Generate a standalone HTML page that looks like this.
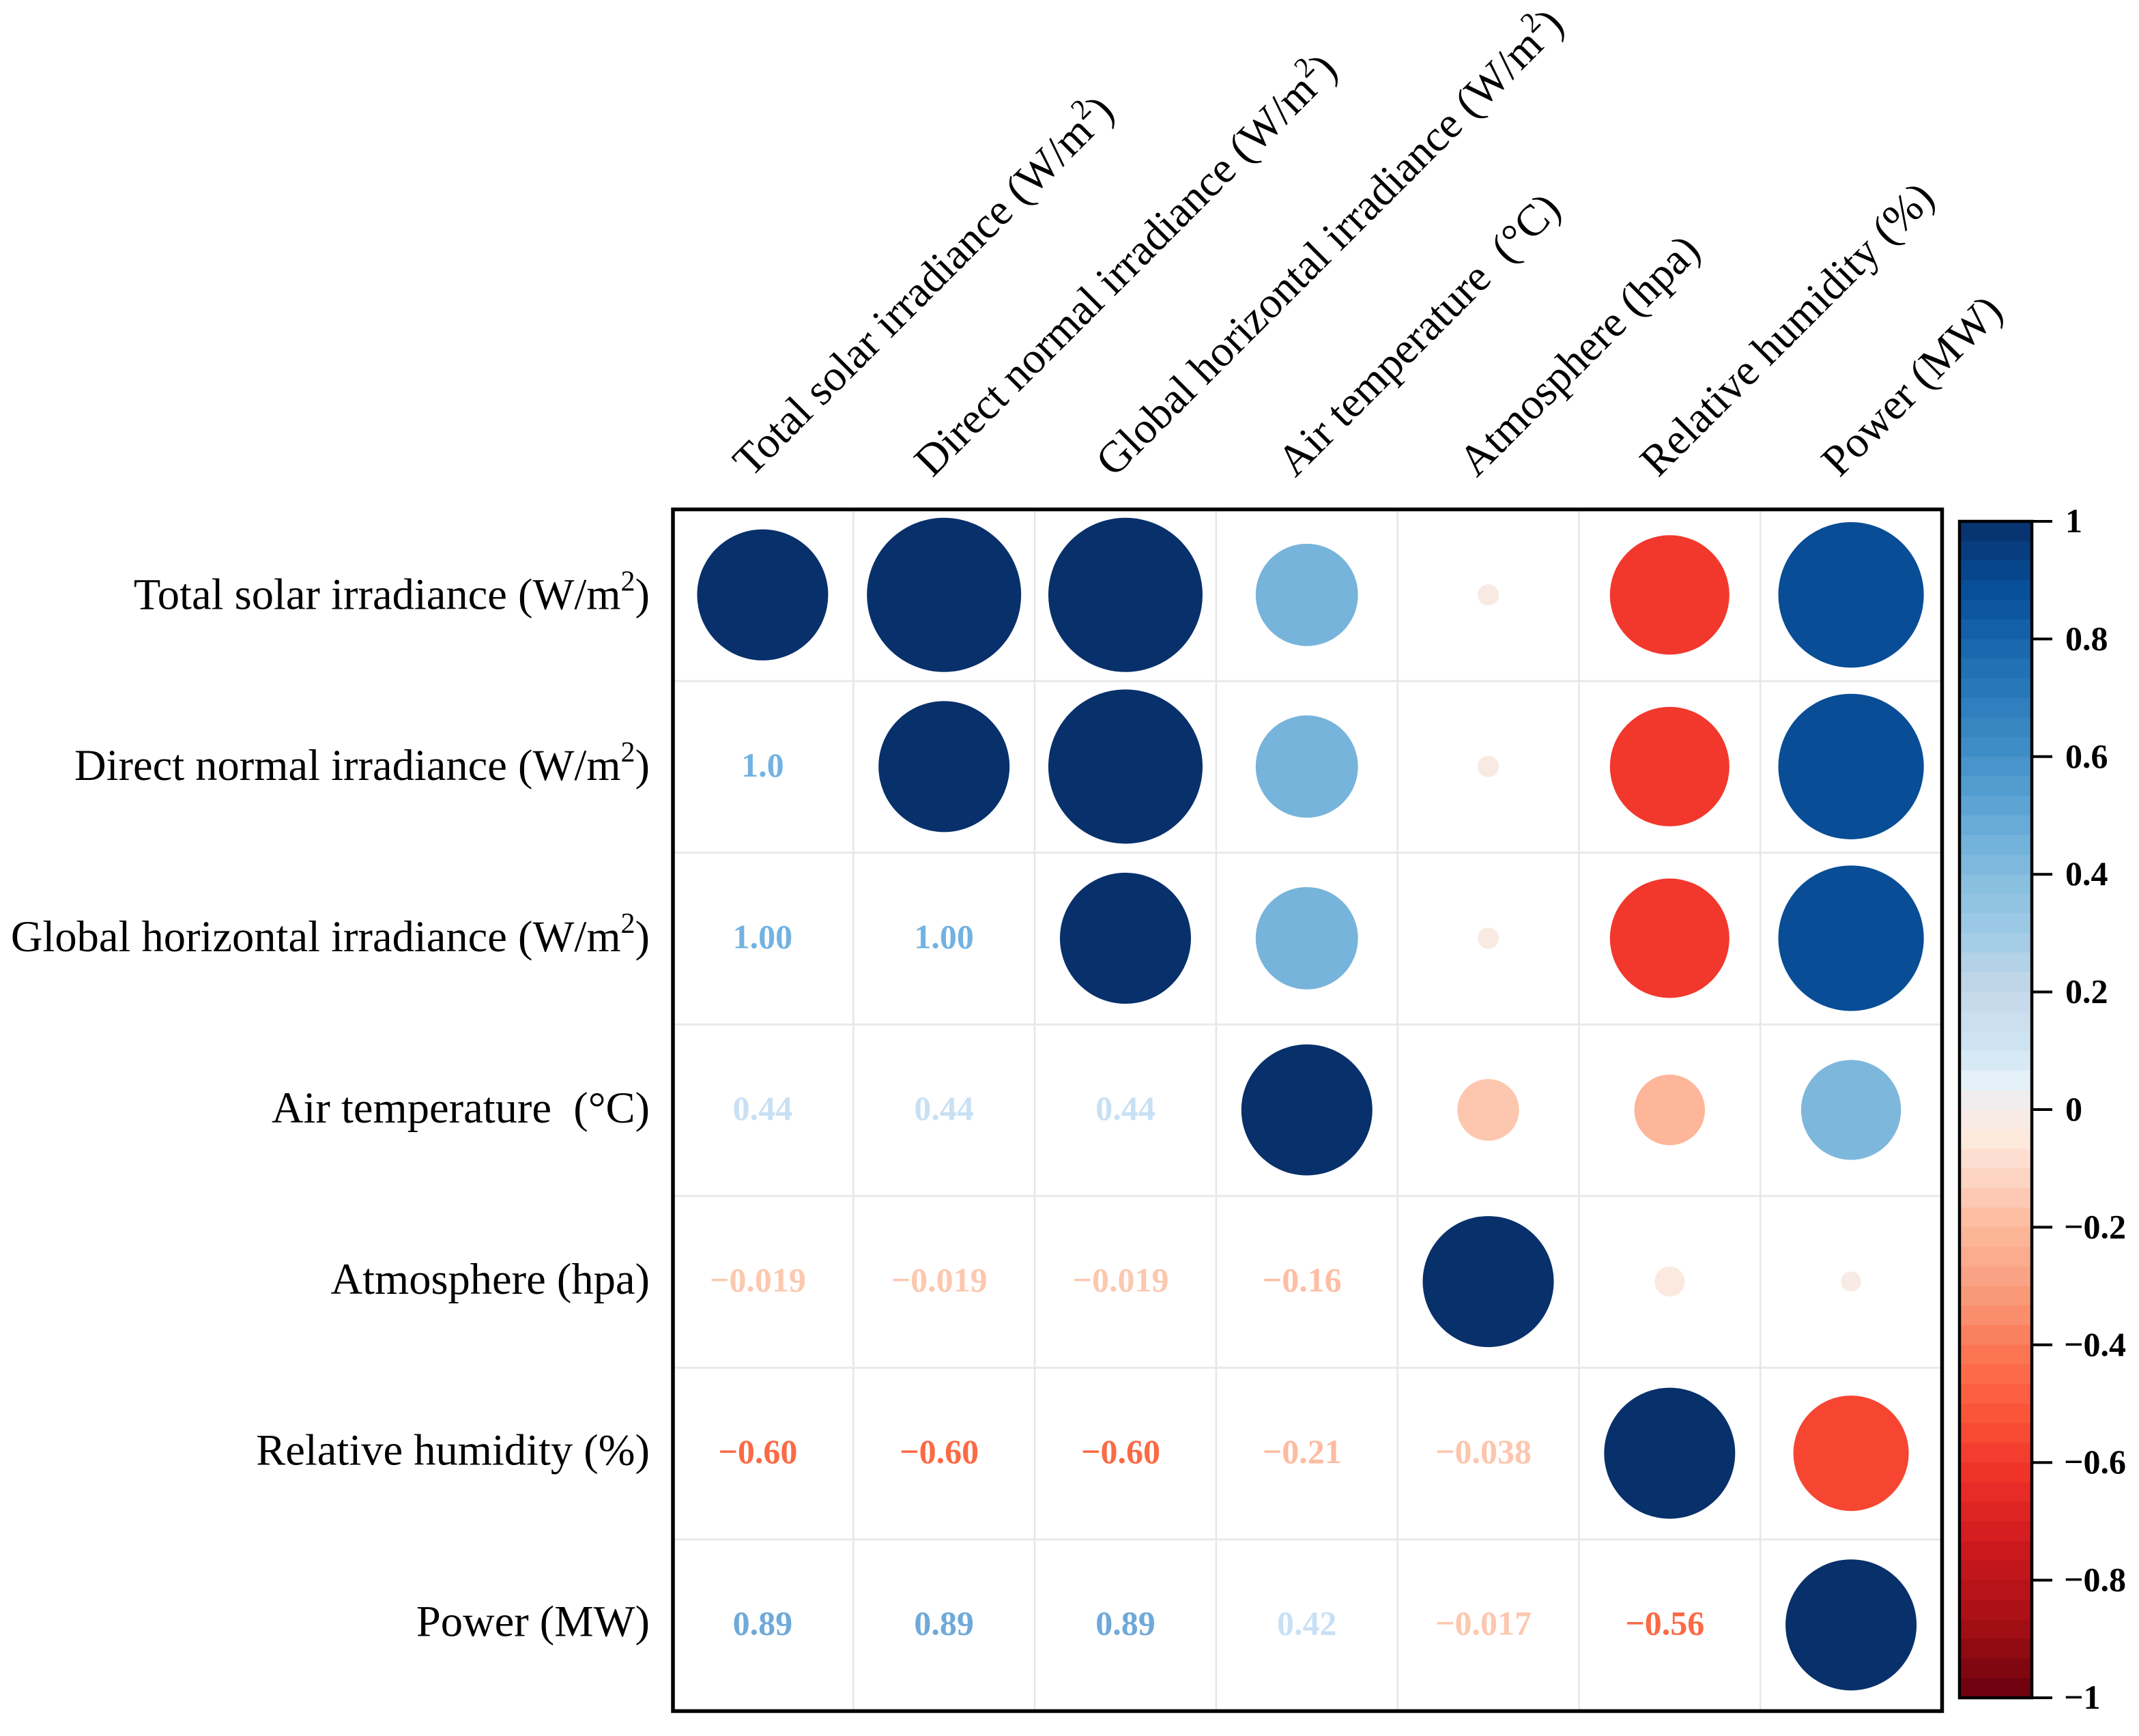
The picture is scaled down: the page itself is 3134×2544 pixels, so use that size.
<!DOCTYPE html>
<html lang="en">
<head>
<meta charset="utf-8">
<title>Correlation matrix</title>
<style>
html,body{margin:0;padding:0;background:#fff;}
svg{display:block;}
text{font-family:"Liberation Serif",serif;}
</style>
</head>
<body>
<svg id="chart" xmlns="http://www.w3.org/2000/svg" width="3134" height="2544" viewBox="0 0 3134 2544"></svg>
<script>
// ---- chart data ----
const categories = ["Total solar irradiance (W/m|2|)", "Direct normal irradiance (W/m|2|)", "Global horizontal irradiance (W/m|2|)", "Air temperature\u00a0\u00a0(\u00b0C)", "Atmosphere (hpa)", "Relative humidity (%)", "Power (MW)"];
const rowTotalSolar = [1, 1, 1, 0.44, -0.019, -0.60, 0.89];
const rowDirectNormal = [1, 1, 1, 0.44, -0.019, -0.60, 0.89];
const rowGlobalHorizontal = [1, 1, 1, 0.44, -0.019, -0.60, 0.89];
const rowAirTemperature = [0.44, 0.44, 0.44, 1, -0.16, -0.21, 0.42];
const rowAtmosphere = [-0.019, -0.019, -0.019, -0.16, 1, -0.038, -0.017];
const rowRelativeHumidity = [-0.60, -0.60, -0.60, -0.21, -0.038, 1, -0.56];
const rowPower = [0.89, 0.89, 0.89, 0.42, -0.017, -0.56, 1];
const printedDirectNormal = ["1.0"];
const printedGlobalHorizontal = ["1.00", "1.00"];
const printedAirTemperature = ["0.44", "0.44", "0.44"];
const printedAtmosphere = ["\u22120.019", "\u22120.019", "\u22120.019", "\u22120.16"];
const printedRelativeHumidity = ["\u22120.60", "\u22120.60", "\u22120.60", "\u22120.21", "\u22120.038"];
const printedPower = ["0.89", "0.89", "0.89", "0.42", "\u22120.017", "\u22120.56"];
const colorbarTicks = [1, 0.8, 0.6, 0.4, 0.2, 0, -0.2, -0.4, -0.6, -0.8, -1];
const colorbarTickLabels = ["1", "0.8", "0.6", "0.4", "0.2", "0", "\u22120.2", "\u22120.4", "\u22120.6", "\u22120.8", "\u22121"];

const matrixRows = [rowTotalSolar, rowDirectNormal, rowGlobalHorizontal, rowAirTemperature, rowAtmosphere, rowRelativeHumidity, rowPower];
const printedRows = [[], printedDirectNormal, printedGlobalHorizontal, printedAirTemperature, printedAtmosphere, printedRelativeHumidity, printedPower];

// ---- layout & scales ----
const NS = "http://www.w3.org/2000/svg";
const svg = document.getElementById("chart");
const plotLeft = 986, plotRight = 2845.5, plotTop = 746.5, plotBottom = 2507.5;
const gridLeft = 984.5, gridRight = 2845;
const count = categories.length;
const cellW = (gridRight - gridLeft) / count;
const cellH = (plotBottom - plotTop) / count;
const xCenter = i => gridLeft + cellW * (i + 0.5);
const yCenter = i => plotTop + cellH * (i + 0.5);
const radius = v => 113 * Math.sqrt(Math.abs(v));
const diagonalRadius = 96;
const barLeft = 2871, barRight = 2977, barTop = 764, barBottom = 2488;
const barY = v => barBottom - (v + 1) / 2 * (barBottom - barTop);

function hexToRgb(h){return [parseInt(h.slice(1,3),16),parseInt(h.slice(3,5),16),parseInt(h.slice(5,7),16)];}
function ramp(stops, v){
  for(let k=0;k<stops.length-1;k++){
    const a=stops[k], b=stops[k+1];
    if(v>=a[0] && v<=b[0]){
      const t=(v-a[0])/((b[0]-a[0])||1);
      const ca=hexToRgb(a[1]), cb=hexToRgb(b[1]);
      return "rgb("+ca.map((c,n)=>Math.round(c+(cb[n]-c)*t)).join(",")+")";
    }
  }
  return v<stops[0][0]?stops[0][1]:stops[stops.length-1][1];
}
const markStops = [[-1,"#67000d"],[-0.875,"#a50f15"],[-0.75,"#cb181d"],[-0.625,"#ef3028"],[-0.5,"#fc5a3c"],[-0.4,"#fb7a57"],[-0.3,"#f99f7f"],[-0.2,"#fdb99c"],[-0.1,"#fdd9ca"],[-0.05,"#fde9dc"],[0,"#f5ebe8"],[0.05,"#e3f0f8"],[0.1,"#d0e5f3"],[0.2,"#c5d8ea"],[0.3,"#a0cbe6"],[0.4,"#84bcde"],[0.5,"#62a8d6"],[0.625,"#3d8bc5"],[0.75,"#2171b5"],[0.875,"#08519c"],[1,"#08306b"]];
const labelStops = [[-1,"#fb6a45"],[-0.56,"#fb6a45"],[-0.21,"#fdbba0"],[0,"#fcc9b0"],[0.001,"#c8e0f4"],[0.44,"#c8e0f4"],[0.89,"#6fa9d9"],[1,"#72b2e2"]];

function make(tag, attrs, parent){
  const el=document.createElementNS(NS,tag);
  for(const k in attrs){el.setAttribute(k,attrs[k]);}
  (parent||svg).appendChild(el);
  return el;
}
function writeLabel(el, raw){
  const parts=raw.split("|");
  if(parts.length===1){el.textContent=raw;return;}
  make("tspan",{},el).textContent=parts[0];
  make("tspan",{dy:-27,"font-size":42},el).textContent=parts[1];
  make("tspan",{dy:27},el).textContent=parts[2];
}
function slug(s){return s.split("|").join("").replace(/[^A-Za-z]+/g,"-").replace(/^-|-$/g,"").toLowerCase();}

// ---- grid ----
for(let i=1;i<count;i++){
  const vLine=make("line",{x1:gridLeft+cellW*i,x2:gridLeft+cellW*i,y1:plotTop,y2:plotBottom,stroke:"#e6e6e6","stroke-width":2.5});
  
  
  const hLine=make("line",{x1:plotLeft,x2:plotRight,y1:plotTop+cellH*i,y2:plotTop+cellH*i,stroke:"#e9e9e9","stroke-width":3});
  
  
}

// ---- cells ----
matrixRows.forEach((row,r)=>{
  row.forEach((v,c)=>{
    if(c>=r){
      const dot=make("circle",{cx:xCenter(c),cy:yCenter(r)-0.5,r:r===c?diagonalRadius:radius(v),fill:ramp(markStops,v)});
      
      
    }else{
      const printed=printedRows[r][c];
      const label=make("text",{x:xCenter(c)+(v<0?-7:0),y:yCenter(r)+14,"text-anchor":"middle","font-size":50,"font-weight":"bold",fill:ramp(labelStops,v)});
      label.textContent=printed;
      
      
    }
  });
});

// ---- frame ----
const frame=make("rect",{x:plotLeft,y:plotTop,width:plotRight-plotLeft,height:plotBottom-plotTop,fill:"none",stroke:"#000","stroke-width":5.5});



// ---- axis labels ----
categories.forEach((name,i)=>{
  const rowLabel=make("text",{x:952,y:yCenter(i)+20-i*0.7,"text-anchor":"end","font-size":64.5,fill:"#000"});
  writeLabel(rowLabel,name);
  
  
  const colX=xCenter(i)-17, colY=701;
  const colLabel=make("text",{x:colX,y:colY,"font-size":64.5,fill:"#000",transform:"rotate(-45 "+colX+" "+colY+")"});
  writeLabel(colLabel,name);
  
  
});

// ---- colorbar ----
const bandCount=60;
for(let b=0;b<bandCount;b++){
  const hi=1-2*b/bandCount, lo=1-2*(b+1)/bandCount;
  const band=make("rect",{x:barLeft,y:barY(hi),width:barRight-barLeft,height:barY(lo)-barY(hi)+0.6,fill:ramp(markStops,(hi+lo)/2)});
  
  
}
const barFrame=make("rect",{x:barLeft,y:barTop,width:barRight-barLeft,height:barBottom-barTop,fill:"none",stroke:"#000","stroke-width":4.5});


colorbarTicks.forEach((t,i)=>{
  const tick=make("line",{x1:barRight,x2:3007,y1:barY(t),y2:barY(t),stroke:"#000","stroke-width":4});
  
  
  const tickLabel=make("text",{x:t<0?3024:3026,y:barY(t)+16,"font-size":50,"font-weight":"bold",fill:"#000"});
  tickLabel.textContent=colorbarTickLabels[i];
  
  
});
</script>
</body>
</html>
